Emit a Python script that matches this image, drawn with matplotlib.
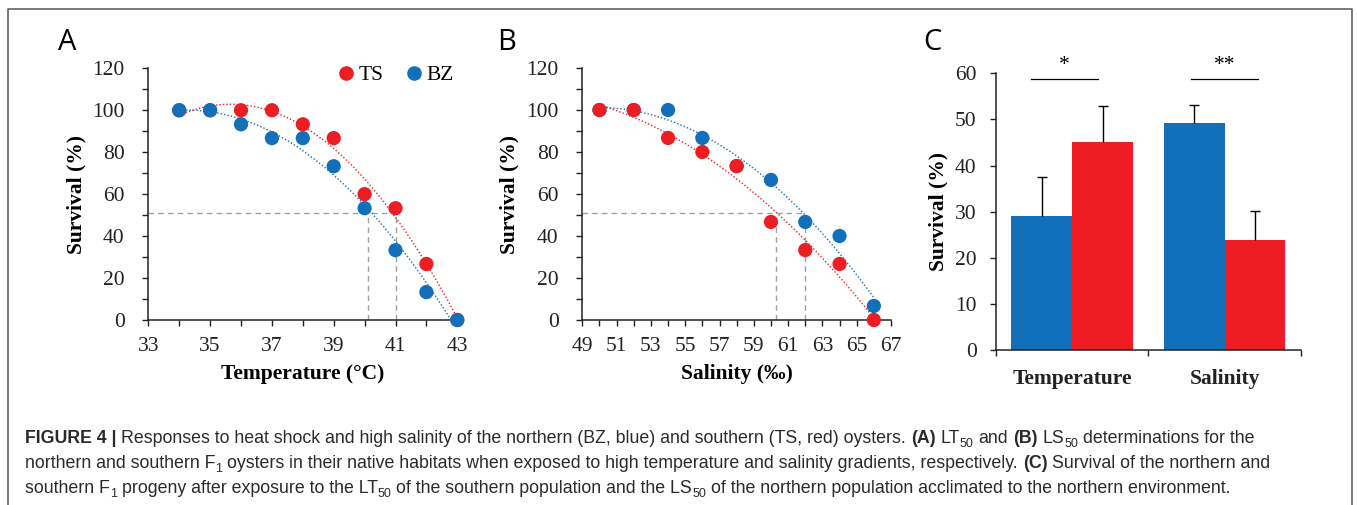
import numpy as np
import matplotlib
matplotlib.use("Agg")
import matplotlib.pyplot as plt
from matplotlib.lines import Line2D

# ---------------- data ----------------
temp_x = [34, 35, 36, 37, 38, 39, 40, 41, 42, 43]
temp_ts = [100, 100, 100, 100, 93.3, 86.7, 60, 53.3, 26.7, 0]
temp_bz = [100, 100, 93.3, 86.7, 86.7, 73.3, 53.3, 33.3, 13.3, 0]
temp_lt50 = [40.12, 41.0]

sal_x = [50, 52, 54, 56, 58, 60, 62, 64, 66]
sal_ts = [100, 100, 86.7, 80, 73.3, 46.7, 33.3, 26.7, 0]
sal_bz = [100, 100, 100, 86.7, 73.3, 66.7, 46.7, 40, 6.7]
sal_ls50 = [60.28, 62.0]
level50 = 51

bar_cats = ["Temperature", "Salinity"]
bar_bz = [29.1, 49.3]
bar_bz_err = [8.4, 3.9]
bar_ts = [45.0, 23.8]
bar_ts_err = [7.9, 6.3]
sig_labels = ["*", "**"]
sig_spans = [(-0.27, 0.17), (0.78, 1.22)]
sig_level = 58.7

RED = "#EE1D24"
BLUE = "#1170B9"
AXC = "#222222"
SERIF = "Liberation Serif"

W, H = 1357, 505
fig = plt.figure(figsize=(W / 100, H / 100), dpi=100)


def px_axes(l, r, t, b):
    return fig.add_axes([l / W, 1 - b / H, (r - l) / W, (b - t) / H])


def style_axes(ax):
    for s in ["top", "right"]:
        ax.spines[s].set_visible(False)
    for s in ["left", "bottom"]:
        ax.spines[s].set_linewidth(1.1)
        ax.spines[s].set_color(AXC)
    ax.tick_params(which="both", direction="out", length=4.5, width=1.0, color=AXC,
                   labelsize=15.5, labelcolor="#222222")
    for lab in ax.get_xticklabels() + ax.get_yticklabels():
        lab.set_fontfamily(SERIF)


def scatter_panel(ax, x, ts, bz, xlo, xhi, cuts, ts_on_top, xlabel):
    ax.set_xlim(xlo, xhi)
    ax.set_ylim(0, 120)
    xx = np.linspace(x[0], x[-1], 200)
    for ys, c in [(ts, RED), (bz, BLUE)]:
        p = np.polyfit(x, ys, 2)
        ax.plot(xx, np.polyval(p, xx), linestyle=(0, (1, 1.5)), lw=1.0, color=c, zorder=2)
    z_ts, z_bz = (4, 3) if ts_on_top else (3, 4)
    ax.scatter(x, ts, s=105, color=RED, edgecolor="none", zorder=z_ts, label="TS", clip_on=False)
    ax.scatter(x, bz, s=105, color=BLUE, edgecolor="none", zorder=z_bz, label="BZ", clip_on=False)
    ax.plot([xlo, max(cuts)], [level50, level50], color="#A0A0A0", lw=1.0, ls=(0, (4, 3)), zorder=1)
    for cx in cuts:
        ax.plot([cx, cx], [0, level50], color="#A0A0A0", lw=1.0, ls=(0, (4, 3)), zorder=1)
    ticks = np.arange(xlo, xhi + 1, 1)
    ax.set_xticks(ticks)
    ax.set_xticklabels([str(int(t)) if (t - xlo) % 2 == 0 else "" for t in ticks])
    ax.set_yticks(np.arange(0, 121, 20))
    ax.set_yticks(np.arange(10, 120, 20), minor=True)
    style_axes(ax)
    ax.tick_params(axis="y", which="both", pad=12.5)
    ax.tick_params(axis="x", which="both", pad=8)
    ax.set_ylabel("Survival (%)", fontfamily=SERIF, fontweight="bold", fontsize=15.5)
    ax.set_xlabel(xlabel, fontfamily=SERIF, fontweight="bold", fontsize=15.5)


# Panel A
axA = px_axes(148.3, 457.3, 68.3, 320)
scatter_panel(axA, temp_x, temp_ts, temp_bz, 33, 43, temp_lt50, False, "Temperature (\u00b0C)")
axA.yaxis.set_label_coords(-0.2, 0.5)
axA.xaxis.set_label_coords(0.5, -0.175)
handles = [Line2D([], [], marker="o", ls="none", color=RED, markersize=10.5, markeredgewidth=0),
           Line2D([], [], marker="o", ls="none", color=BLUE, markersize=10.5, markeredgewidth=0)]
axA.legend(handles, ["TS", "BZ"], ncol=2, frameon=False, loc="center left",
           bbox_to_anchor=(0.607, 0.973), handlelength=0.9, handletextpad=0.15,
           columnspacing=0.95, borderpad=0, borderaxespad=0,
           prop={"family": SERIF, "size": 15.5})

# Panel B
axB = px_axes(582.3, 891, 68, 320)
scatter_panel(axB, sal_x, sal_ts, sal_bz, 49, 67, sal_ls50, True, "Salinity (\u2030)")
axB.yaxis.set_label_coords(-0.205, 0.5)
axB.xaxis.set_label_coords(0.5, -0.175)

# Panel C
axC = px_axes(996, 1300.7, 73.3, 350)
xc = np.arange(len(bar_cats))
bw = 0.4
axC.bar(xc - bw / 2, bar_bz, width=bw, color=BLUE, edgecolor="none", zorder=2)
axC.bar(xc + bw / 2, bar_ts, width=bw, color=RED, edgecolor="none", zorder=2)
for xs, vals, errs in [(xc - bw / 2, bar_bz, bar_bz_err), (xc + bw / 2, bar_ts, bar_ts_err)]:
    tops = np.array(vals) + np.array(errs)
    axC.vlines(xs, vals, tops, color="black", lw=1.0, zorder=3)
    axC.plot(xs, tops, ls="none", marker="_", markersize=6.5, mew=1.0, color="black", zorder=3)
for (a, b), lab in zip(sig_spans, sig_labels):
    axC.plot([a, b], [sig_level, sig_level], color="black", lw=0.9, clip_on=False)
    axC.text((a + b) / 2, sig_level + 1.0, lab,
             ha="center", va="bottom", fontsize=15.5, fontfamily=SERIF)
axC.set_xlim(-0.5, 1.5)
axC.set_ylim(0, 60)
axC.set_yticks(np.arange(0, 61, 10))
axC.set_xticks([-0.5, 0.5, 1.5])
axC.set_xticklabels([])
axC.set_xticks(xc, minor=True)
axC.set_xticklabels(bar_cats, minor=True)
style_axes(axC)
axC.tick_params(axis="y", pad=9.5)
axC.tick_params(axis="x", which="minor", length=0, pad=14)
for lab in axC.get_xticklabels(minor=True):
    lab.set_fontfamily(SERIF)
    lab.set_fontweight("bold")
    lab.set_fontsize(15.5)
axC.set_ylabel("Survival (%)", fontfamily=SERIF, fontweight="bold", fontsize=15.5)
axC.yaxis.set_label_coords(-0.155, 0.5)

# Panel letters
for letter, xpx in [("A", 67), ("B", 507), ("C", 932)]:
    fig.text(xpx / W, 1 - 42 / H, letter, ha="center", va="center",
             fontsize=21, fontfamily="Open Sans", color="#000000")

# Border
fig.add_artist(Line2D([8 / W, 8 / W, 1352 / W, 1352 / W], [0, 1 - 9 / H, 1 - 9 / H, 0],
                      transform=fig.transFigure, color="#555555", lw=1.1))

# Caption (rich text)
CAP_FONT = "Liberation Sans"
CAP_COLOR = "#2a2a2a"
caption_lines = [
    [("FIGURE 4 |", "b"), (" Responses to heat shock and high salinity of the northern (BZ, blue) and southern (TS, red) oysters. ", "n"),
     ("(A)", "b"), (" LT", "n"), ("50", "s"), (" and ", "n"), ("(B)", "b"), (" LS", "n"), ("50", "s"),
     (" determinations for the", "n")],
    [("northern and southern F", "n"), ("1", "s"),
     (" oysters in their native habitats when exposed to high temperature and salinity gradients, respectively. ", "n"),
     ("(C)", "b"), (" Survival of the northern and", "n")],
    [("southern F", "n"), ("1", "s"), (" progeny after exposure to the LT", "n"), ("50", "s"),
     (" of the southern population and the LS", "n"), ("50", "s"),
     (" of the northern population acclimated to the northern environment.", "n")],
]
caption_baselines = [443, 468, 493]

renderer = fig.canvas.get_renderer()


def text_w(s, size, weight="normal"):
    t = fig.text(0, 0, s, fontsize=size, fontfamily=CAP_FONT, fontweight=weight)
    w = t.get_window_extent(renderer).width
    t.remove()
    return w


def piece_widths(pieces, size):
    sp = text_w("a a", size) - text_w("aa", size)
    out = []
    for s, k in pieces:
        sz = size * 0.7 if k == "s" else size
        wt = "bold" if k == "b" else "normal"
        core = s.strip()
        lead = sp if s.startswith(" ") else 0
        trail = sp if s.endswith(" ") else 0
        out.append((core, k, sz, wt, lead, text_w(core, sz, wt) if core else 0, trail))
    return out


def line_width(pieces, size):
    return sum(l + w + t for _, _, _, _, l, w, t in piece_widths(pieces, size))


base_size = 10
scale = (1263 - 25) / line_width(caption_lines[0], base_size)
cap_size = base_size * scale

for pieces, ybl in zip(caption_lines, caption_baselines):
    x = 25.0
    for core, k, sz, wt, lead, w, trail in piece_widths(pieces, cap_size):
        x += lead
        yy = ybl + (cap_size * 0.35 if k == "s" else 0)
        if core:
            fig.text(x / W, 1 - yy / H, core, fontsize=sz, fontfamily=CAP_FONT,
                     fontweight=wt, color=CAP_COLOR, ha="left", va="baseline")
        x += w + trail

fig.savefig("out.png", dpi=100)
